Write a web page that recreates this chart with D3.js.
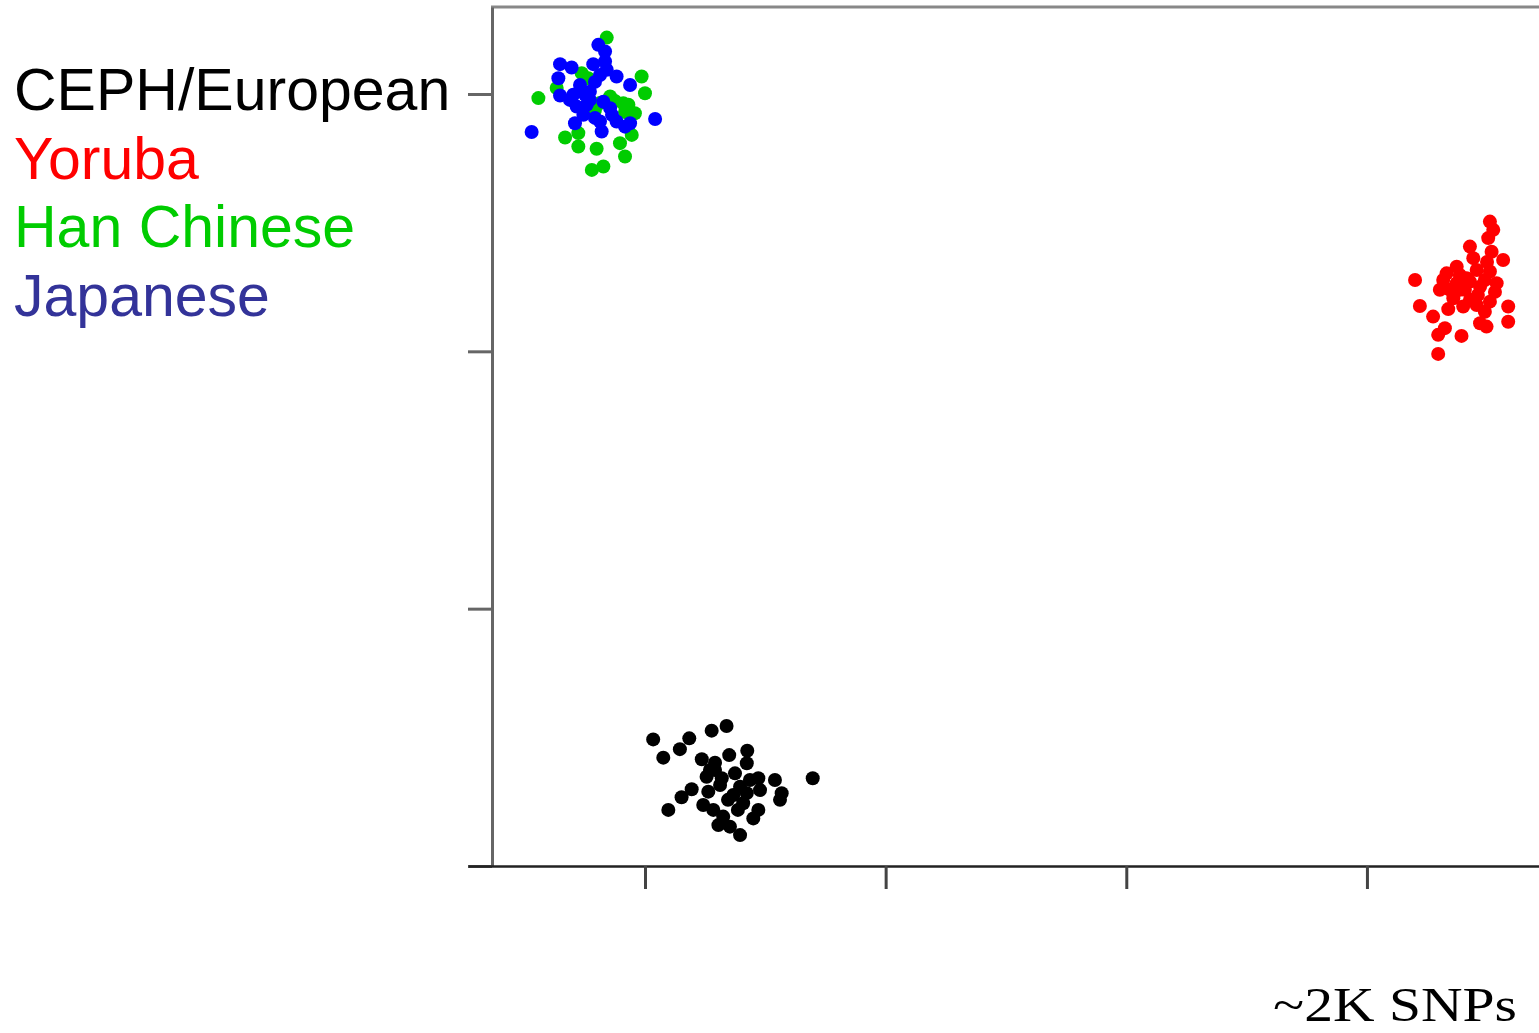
<!DOCTYPE html>
<html>
<head>
<meta charset="utf-8">
<script src="https://cdn.jsdelivr.net/npm/d3@7"></script>
<style>
  html, body { margin: 0; padding: 0; background: #fff; }
  svg { display: block; }
</style>
</head>
<body>
<svg id="chart" width="1539" height="1033"></svg>
<script>
// ---- data ----
const groups = ["CEPH/European", "Yoruba", "Han Chinese", "Japanese"];
const labelColors = ["#000000", "#ff0000", "#00cc00", "#333399"];
const pointColors = {"CEPH/European": "#000000", "Yoruba": "#ff0000", "Han Chinese": "#00cc00", "Japanese": "#0000ff"};
const xTicks = [10, 20, 30, 40];
const yTicks = [0, 10, 20, 30];
const xLabel = "~2K SNPs";

const cephX = [10.34,10.76,11.45,11.84,12.77,13.39,12.36,12.91,13.50,14.25,14.23,12.56,13.19,13.74,14.71,15.40,16.97,11.94,11.52,10.97,12.63,12.42,13.67,14.23,14.78,15.68,15.61,14.08,14.71,14.50,13.25,13.05,13.53,13.95,12.84,12.70,13.95,13.12,13.45,14.36,12.91,13.86];
const cephY = [4.92,4.21,4.54,4.96,5.26,5.44,4.15,4.01,4.31,4.48,3.99,3.47,3.41,3.60,3.41,3.34,3.41,2.98,2.67,2.18,2.89,2.37,2.76,2.83,2.95,2.83,2.57,2.44,2.18,1.85,1.92,1.59,1.53,1.20,2.18,3.73,3.08,3.15,2.57,3.34,3.73,2.18];

const yorubaX = [45.11,45.25,45.04,44.28,45.18,45.66,44.42,43.73,43.31,42.00,43.17,44.28,45.11,45.39,43.45,44.70,43.59,42.20,43.38,44.00,44.56,45.11,45.87,44.90,42.75,45.87,44.70,43.24,42.96,43.93,44.97,42.96,44.14,43.73,43.86,44.56,43.86,44.07,44.61,44.90,44.28,45.32,44.99,43.03];
const yorubaY = [25.04,24.72,24.40,24.07,23.87,23.55,23.62,23.29,23.03,22.77,22.77,22.71,23.10,22.65,22.39,22.51,22.06,21.76,21.64,21.74,21.80,21.93,21.74,21.54,21.35,21.15,21.09,20.90,20.64,20.60,20.96,19.90,22.84,22.65,22.39,23.16,22.97,22.39,22.19,22.77,22.00,22.31,23.47,22.39];

const hanX = [8.41,9.86,10.00,5.57,6.33,7.37,7.64,9.10,9.31,9.58,7.92,6.68,7.23,9.45,7.23,7.99,8.96,9.17,7.79,8.27,8.55,8.13,8.75,9.17];
const hanY = [32.19,30.68,30.03,29.84,30.23,30.81,30.61,29.64,29.58,29.25,29.38,28.31,28.48,28.41,27.96,27.87,28.09,27.57,27.05,27.18,29.90,29.65,29.73,29.30];

const japX = [8.06,8.34,6.47,6.95,7.85,8.34,8.41,6.40,8.82,9.38,7.30,6.47,7.02,7.71,8.27,7.16,7.58,8.55,7.44,7.09,8.13,8.82,9.38,9.17,8.20,5.29,10.42,7.71,7.92,7.51,7.92,8.63,8.13,6.88];
const japY = [31.91,31.65,31.16,31.03,31.16,31.26,30.94,30.61,30.68,30.35,30.35,29.94,29.97,30.09,29.70,29.51,29.58,29.45,29.19,28.86,28.93,28.93,28.86,28.73,28.54,28.52,29.03,29.77,30.47,29.97,29.07,29.19,30.74,29.77];

// ---- build ----
const svg = d3.select("#chart");
const x = d3.scaleLinear().domain([2.645, 47.15]).range([468, 1539]);
const y = d3.scaleLinear().domain([0, 33.38]).range([866, 7]);

function pts(name, xs, ys) { return xs.map((v, i) => ({g: name, x: v, y: ys[i]})); }
const data = [
  ...pts("CEPH/European", cephX, cephY),
  ...pts("Yoruba", yorubaX, yorubaY),
  ...pts("Han Chinese", hanX, hanY),
  ...pts("Japanese", japX, japY)
];

// top border
svg.append("line")
  .attr("x1", 491).attr("x2", 1539)
  .attr("y1", y(33.38)).attr("y2", y(33.38))
  .attr("stroke", "#888").attr("stroke-width", 3);

// left axis
const yAxis = d3.axisLeft(y).tickValues(yTicks).tickSize(24).tickSizeOuter(0).tickFormat("");
const gy = svg.append("g").attr("transform", "translate(492,0)").call(yAxis);
gy.select(".domain").attr("stroke", "#666").attr("stroke-width", 3);
gy.selectAll(".tick line").attr("stroke", "#666").attr("stroke-width", 3);

// bottom axis
const xAxis = d3.axisBottom(x).tickValues(xTicks).tickSize(23).tickSizeOuter(0).tickFormat("");
const gx = svg.append("g").attr("transform", `translate(0,${y(0)})`).call(xAxis);
gx.select(".domain").attr("stroke", "#222").attr("stroke-width", 2.5);
gx.selectAll(".tick line").attr("stroke", "#444").attr("stroke-width", 3);

// points
svg.append("g").selectAll("circle")
  .data(data)
  .join("circle")
  .attr("cx", d => x(d.x))
  .attr("cy", d => y(d.y))
  .attr("r", 7)
  .attr("fill", d => pointColors[d.g]);

// legend
svg.append("g").selectAll("text")
  .data(groups)
  .join("text")
  .attr("x", 14)
  .attr("y", (d, i) => 110 + i * 68.5)
  .attr("font-family", "'Liberation Sans', Arial, sans-serif")
  .attr("font-size", 59)
  .attr("fill", (d, i) => labelColors[i])
  .text(d => d);

// x label
svg.append("text")
  .attr("x", 1273).attr("y", 1021)
  .attr("font-family", "'Liberation Serif', 'Times New Roman', serif")
  .attr("font-size", 49)
  .attr("textLength", 244)
  .attr("lengthAdjust", "spacingAndGlyphs")
  .attr("fill", "#000")
  .text(xLabel);
</script>
</body>
</html>
